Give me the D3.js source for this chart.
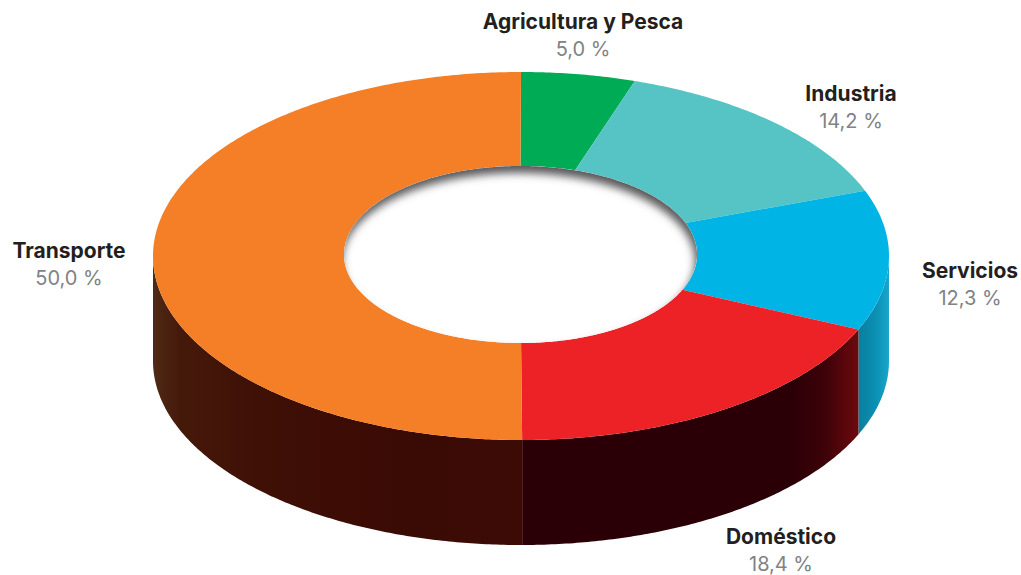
<!DOCTYPE html>
<html><head><meta charset="utf-8">
<script src="https://cdn.jsdelivr.net/npm/d3@7/dist/d3.min.js"></script>
<style>html,body{margin:0;padding:0;background:#fff}svg{display:block}text{font-family:"Inter",sans-serif;text-anchor:middle}</style>
</head><body><svg id="c" width="1021" height="575"></svg>
<script>
const categories=["Agricultura y Pesca","Industria","Servicios","Doméstico","Transporte"];
const values=[5.0,14.2,12.3,18.4,50.0];
const valueLabels=["5,0 %","14,2 %","12,3 %","18,4 %","50,0 %"];
const colors=["#00ab55","#56c4c5","#00b5e6","#ed2227","#f47f26"];
const labelCenters=[[583,29],[851,101],[970,278],[781,544],[69,258]];
const outer={cx:521,cy:256,rx:368,ry:184};
const inner={cx:520.5,cy:254.5,rx:176.5,ry:88.5};
const depth=105;

const svg=d3.select("#c"),defs=svg.append("defs");
const pie=d3.pie().sort(null)(values);
const px=(e,a)=>e.cx+e.rx*Math.sin(a), py=(e,a)=>e.cy-e.ry*Math.cos(a);
const line=d3.line();
function samples(a0,a1){const n=Math.max(2,Math.ceil(Math.abs(a1-a0)/0.01));return d3.range(n+1).map(i=>a0+(a1-a0)*i/n);}
function slicePath(a0,a1){
  const o=samples(a0,a1).map(a=>[px(outer,a),py(outer,a)]);
  const i=samples(a1,a0).map(a=>[px(inner,a),py(inner,a)]);
  return line(o.concat(i))+"Z";
}
function wallPath(a0,a1){
  const t=samples(a0,a1).map(a=>[px(outer,a),py(outer,a)]);
  const b=samples(a1,a0).map(a=>[px(outer,a),py(outer,a)+depth]);
  return line(t.concat(b))+"Z";
}
function grad(id,stops){
  const g=defs.append("linearGradient").attr("id",id).attr("gradientUnits","userSpaceOnUse")
    .attr("x1",outer.cx-outer.rx).attr("x2",outer.cx+outer.rx).attr("y1",0).attr("y2",0);
  stops.forEach(([x,c])=>g.append("stop").attr("offset",(x-(outer.cx-outer.rx))/(2*outer.rx)).attr("stop-color",c));
}
grad("wS",[[859,"#0a7f9f"],[875,"#0a8fb2"],[889,"#18a6cb"]]);
grad("wD",[[525,"#2a0006"],[790,"#2a0006"],[825,"#3d0208"],[859,"#6e0a0e"]]);
grad("wT",[[153,"#4f2a16"],[180,"#45190a"],[260,"#3f1006"],[400,"#3a0a04"],[527,"#3c0b05"]]);

const H=Math.PI/2;
const walls=[[H,pie[2].endAngle,"wS"],[pie[2].endAngle,pie[3].endAngle,"wD"],[pie[3].endAngle,3*H,"wT"]];
svg.append("g").selectAll("path").data(walls).join("path")
  .attr("d",d=>wallPath(d[0],d[1])).attr("fill",d=>`url(#${d[2]})`);

svg.append("g").selectAll("path").data(pie).join("path")
  .attr("d",d=>slicePath(d.startAngle,d.endAngle)).attr("fill",(d,i)=>colors[i]);

// hole
const ell=e=>line(samples(0,2*Math.PI).map(a=>[px(e,a),py(e,a)]))+"Z";
defs.append("clipPath").attr("id","hc").append("path").attr("d",ell(inner));
const f=defs.append("filter").attr("id","bl").attr("x","-20%").attr("y","-20%").attr("width","140%").attr("height","140%");
f.append("feGaussianBlur").attr("stdDeviation",4);
svg.append("path").attr("d",ell(inner)).attr("fill","#fff");
const sh={...inner,cx:inner.cx-2,cy:inner.cy+7};
svg.append("g").attr("clip-path","url(#hc)").append("path")
  .attr("d","M300,120H740V400H300Z"+ell(sh)).attr("fill-rule","evenodd").attr("fill","#58585a").attr("filter","url(#bl)");

// labels
const lab=svg.append("g").selectAll("g").data(categories).join("g")
  .attr("transform",(d,i)=>`translate(${labelCenters[i][0]},${labelCenters[i][1]})`);
lab.append("text").text(d=>d).attr("font-size",21).attr("font-weight",700).attr("fill","#231f20");
lab.append("text").text((d,i)=>valueLabels[i]).attr("y",27).attr("font-size",20).attr("fill","#808285");
</script></body></html>
